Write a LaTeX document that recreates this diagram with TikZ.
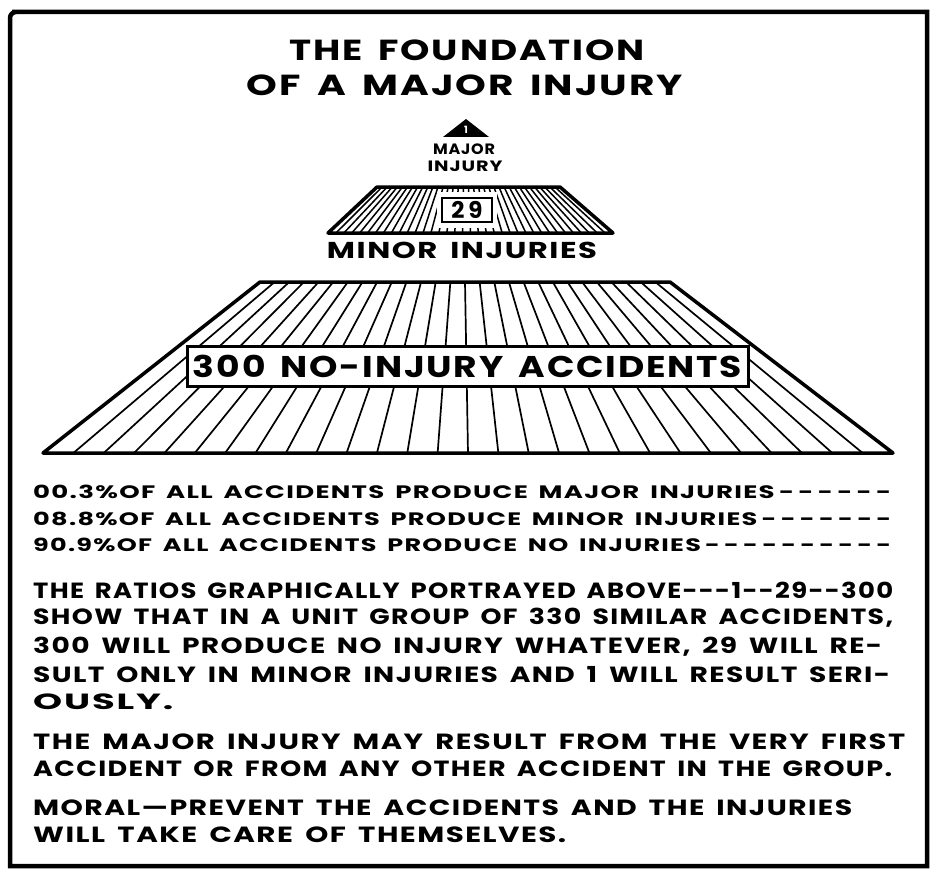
\documentclass[tikz,border=0pt]{standalone}
\usepackage{fontspec}
\setmainfont{Poppins}[LetterSpace=5, WordSpace=1.6]
\usepackage{graphicx}
\usetikzlibrary{calc}

% stretch a line of lettering to a given width (keeps its height)
\newcommand\fitto[2]{\resizebox{#1pt}{\height}{#2}}
\newcommand\dashrow[1]{\foreach\k in {1,...,#1}{\kern3pt-}}

\begin{document}
\begin{tikzpicture}[
        x=1pt, y=-1pt,
        outerframe/.style={line width=4.5pt, line join=miter},
        rim/.style={line width=3.5pt, line join=round},
        hatch/.style={line width=1.7pt},
        headline/.style={inner sep=0pt, font=\bfseries\fontsize{29}{29}\selectfont},
        tier/.style={inner sep=0pt, font=\bfseries\fontsize{23}{23}\selectfont},
        ratio/.style={anchor=west, inner sep=0pt, font=\bfseries\fontsize{18}{18}\selectfont},
        prose/.style={anchor=west, inner sep=0pt, font=\bfseries\fontsize{22}{22}\selectfont},
    ]
    \useasboundingbox (0,0) rectangle (940,880);
    \draw[outerframe] (10,866) -- (10,20) [rounded corners=6pt] -- (10,12) -- (18,12)
        [sharp corners] -- (927,12) -- (927,866) -- cycle;

    % title
    \node[headline] (title1) at (467,50) {\fitto{355}{THE FOUNDATION}};
    \node[headline] (title2) at (465,85) {\fitto{436}{OF A MAJOR INJURY}};

    % top: one major injury
    \coordinate (apex)  at (466,119);
    \coordinate (triL)  at (443,137);
    \coordinate (triR)  at (489,137);
    \fill (apex) -- (triR) -- (triL) -- cycle;
    \node[inner sep=0pt, white, font=\bfseries\fontsize{10}{10}\selectfont] (one) at (466,130) {1};
    \node[inner sep=0pt, font=\bfseries\fontsize{15}{15}\selectfont] (major) at (464,149) {\fitto{62}{MAJOR}};
    \node[inner sep=0pt, font=\bfseries\fontsize{15}{15}\selectfont] (injury) at (465,166) {\fitto{75}{INJURY}};

    % middle: minor injuries
    \coordinate (midTL) at (377,187);
    \coordinate (midTR) at (560,187);
    \coordinate (midBL) at (328,233);
    \coordinate (midBR) at (613,233);
    \foreach \i in {1,...,35}
        \draw[hatch, line width=1.5pt] ($(midBL)!\i/36!(midBR)$) -- ($(midTL)!\i/36!(midTR)$);
    \fill[white] (437,192) rectangle (497,228);
    \draw[rim] (midBL) -- (midBR) -- (midTR) -- (midTL) -- cycle;
    \node[draw, line width=2.5pt, fill=white, minimum width=50pt, minimum height=24pt,
          inner sep=0pt, font=\bfseries\fontsize{23}{23}\selectfont] (twentynine) at (467,210) {2\,9};
    \node[tier] (minor) at (462,250) {\fitto{270}{MINOR INJURIES}};

    % base: no-injury accidents
    \coordinate (baseTL) at (260,282);
    \coordinate (baseTR) at (670,282);
    \coordinate (baseBL) at (43,453);
    \coordinate (baseBR) at (893,453);
    \foreach \i in {1,...,27}
        \draw[hatch] ($(baseBL)!\i/28!(baseBR)$) -- ($(baseTL)!\i/28!(baseTR)$);
    \draw[rim] (baseBL) -- (baseBR) -- (baseTR) -- (baseTL) -- cycle;
    \node[draw, line width=3pt, fill=white, minimum width=561pt, minimum height=40pt,
          inner sep=0pt, font=\bfseries\fontsize{30}{30}\selectfont] (noinjury) at (467.5,366)
          {\fitto{549}{300 NO-INJURY ACCIDENTS}};

    % percentages
    \node[ratio] (pct1) at (33,492) {\fitto{858}{00.3\%OF ALL ACCIDENTS PRODUCE MAJOR INJURIES\dashrow{6}}};
    \node[ratio] (pct2) at (33,519) {\fitto{858}{08.8\%OF ALL ACCIDENTS PRODUCE MINOR INJURIES\dashrow{7}}};
    \node[ratio] (pct3) at (33,545) {\fitto{858}{90.9\%OF ALL ACCIDENTS PRODUCE NO INJURIES\dashrow{10}}};

    % explanation
    \node[prose] (para1) at (33,590) {\fitto{860}{THE RATIOS GRAPHICALLY PORTRAYED ABOVE-{}-{}-1-{}-29-{}-300}};
    \node[prose] (para2) at (33,618) {\fitto{860}{SHOW THAT IN A UNIT GROUP OF 330 SIMILAR ACCIDENTS,}};
    \node[prose] (para3) at (33,647) {\fitto{849}{300 WILL PRODUCE NO INJURY WHATEVER, 29 WILL RE-}};
    \node[prose] (para4) at (33,675) {\fitto{857}{SULT ONLY IN MINOR INJURIES AND 1 WILL RESULT SERI-}};
    \node[prose] (para5) at (33,702) {\fitto{140}{OUSLY.}};

    \node[prose] (first1) at (33,742) {\fitto{872}{THE MAJOR INJURY MAY RESULT FROM THE VERY FIRST}};
    \node[prose] (first2) at (33,769) {\fitto{859}{ACCIDENT OR FROM ANY OTHER ACCIDENT IN THE GROUP.}};

    \node[prose] (moral1) at (33,808) {\fitto{819}{MORAL\textemdash PREVENT THE ACCIDENTS AND THE INJURIES}};
    \node[prose] (moral2) at (33,835) {\fitto{533}{WILL TAKE CARE OF THEMSELVES.}};
\end{tikzpicture}
\end{document}
